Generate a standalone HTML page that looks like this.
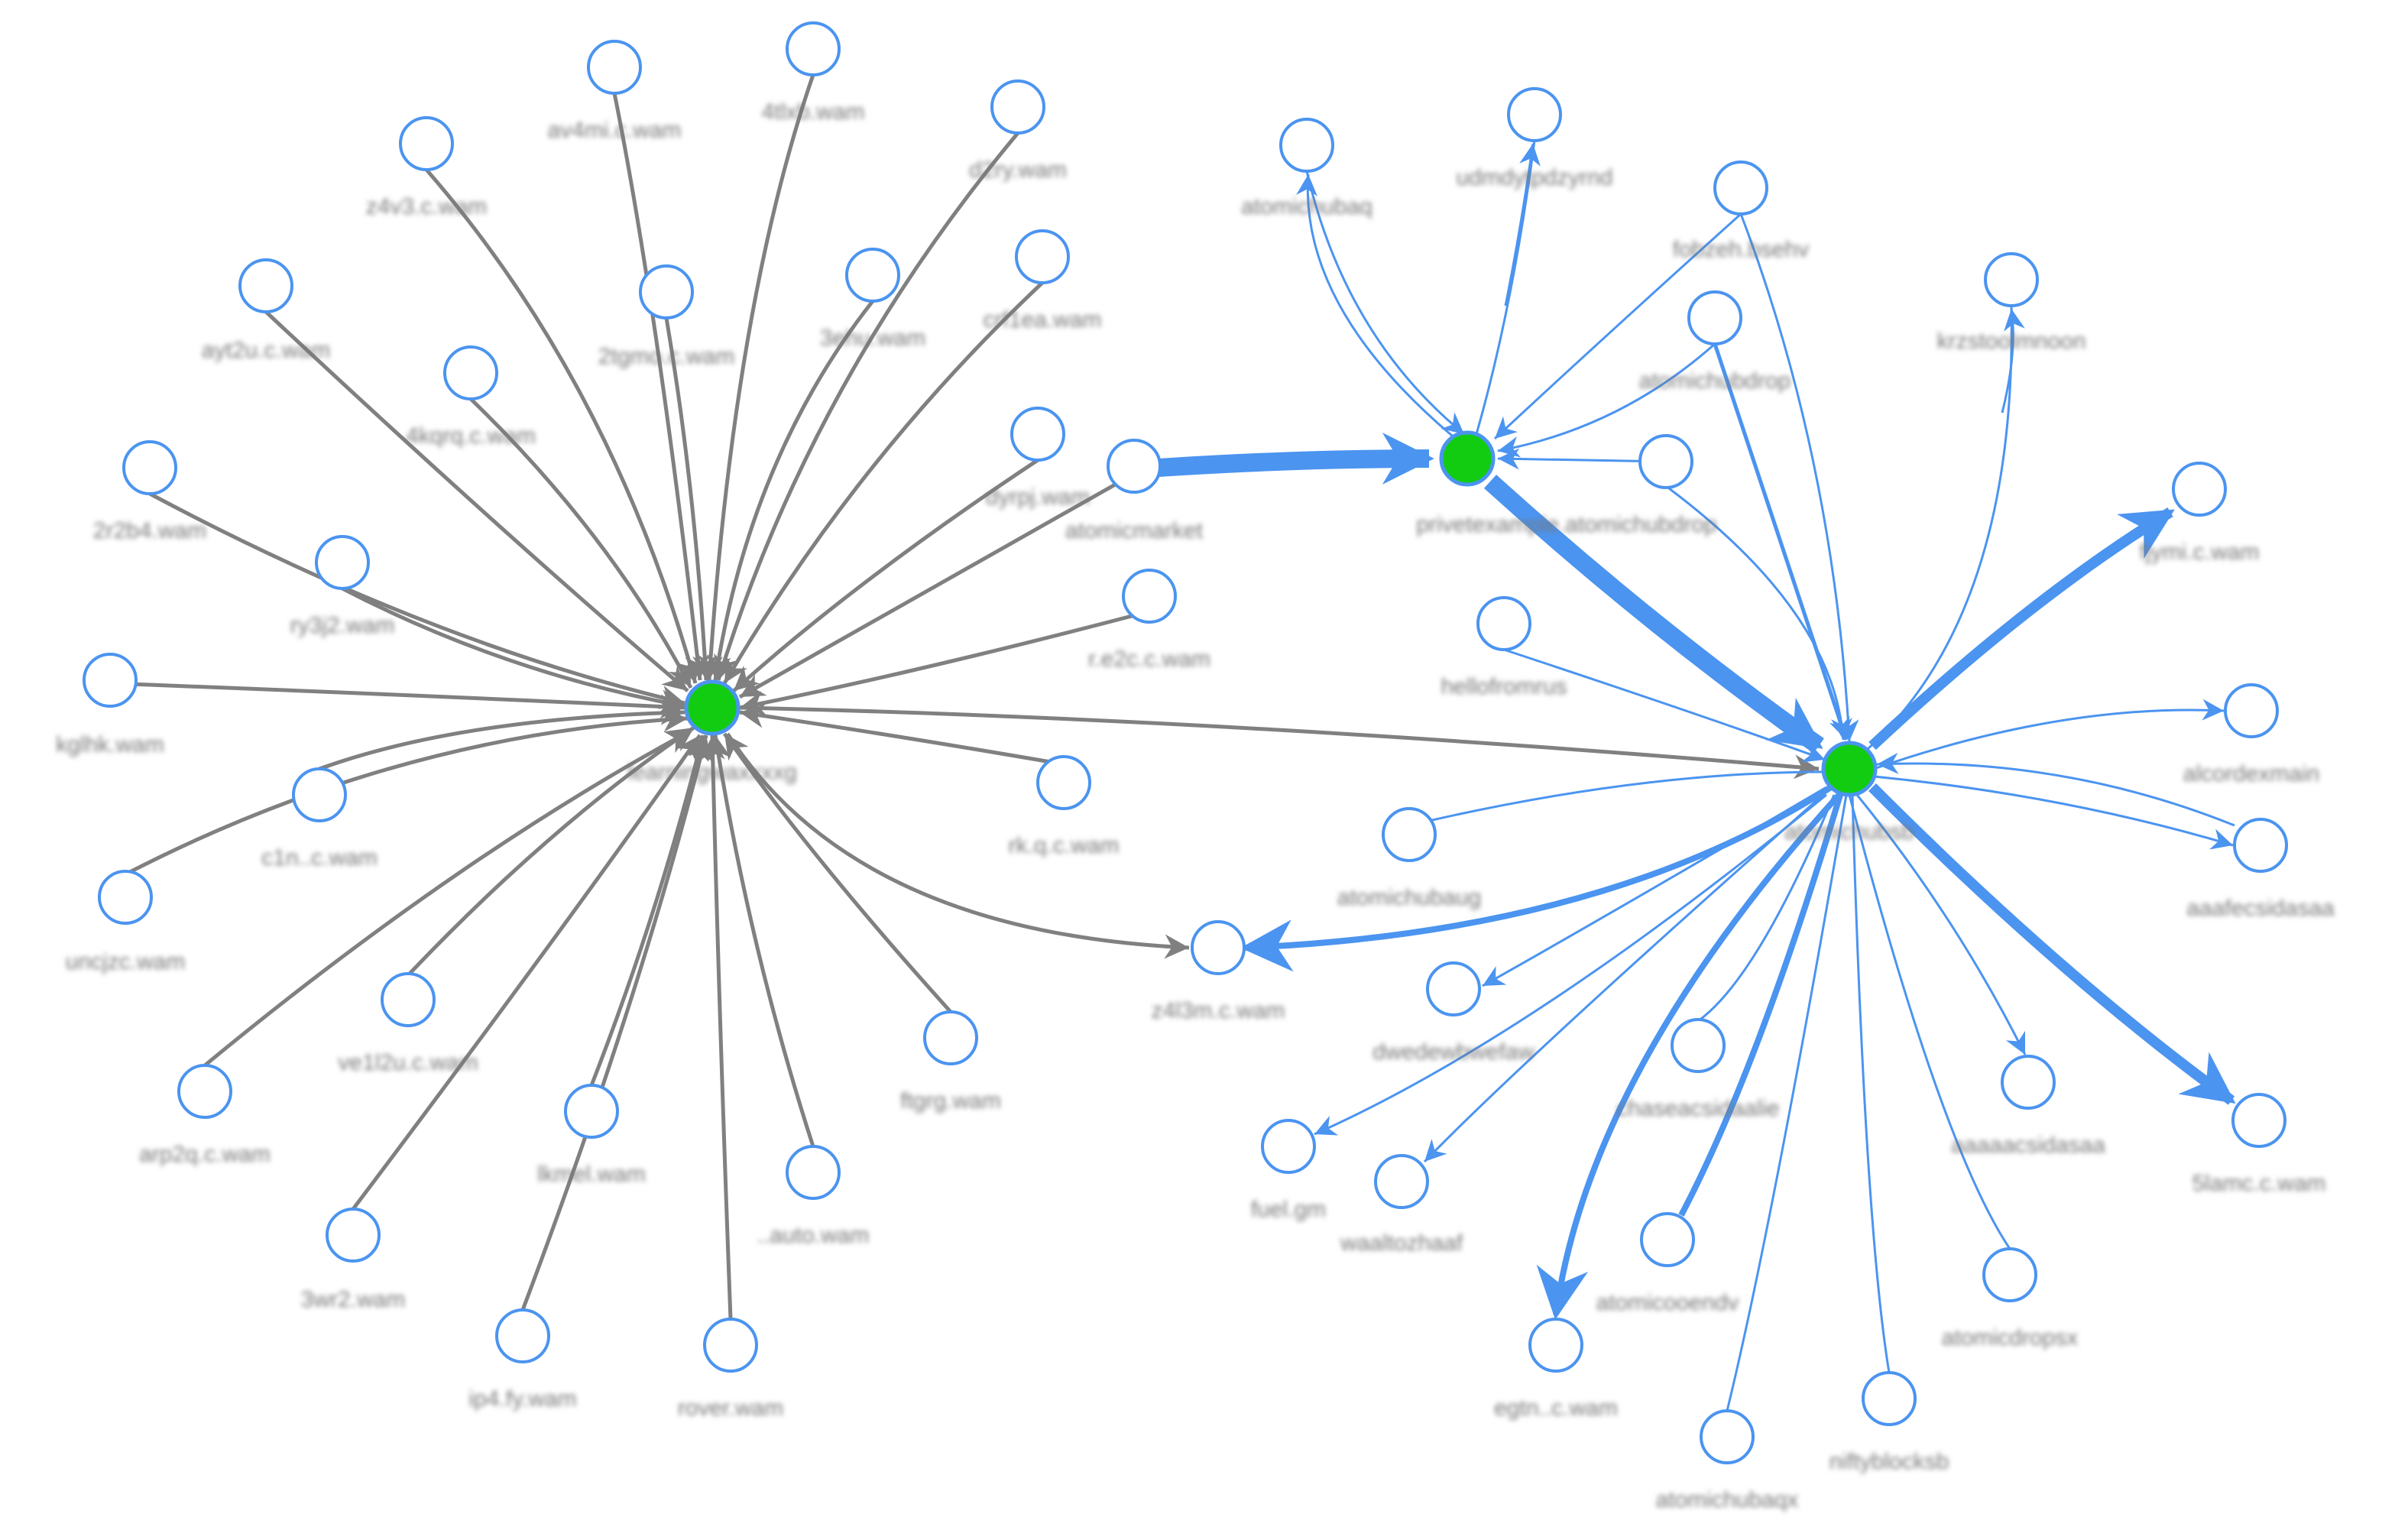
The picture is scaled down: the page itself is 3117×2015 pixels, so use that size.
<!DOCTYPE html>
<html><head><meta charset="utf-8"><style>
html,body{margin:0;padding:0;background:#fff;}
svg{display:block}
text{font-family:"Liberation Sans",sans-serif;font-size:15px;fill:#777;filter:url(#b)}
</style></head><body>
<svg width="3117" height="2015" viewBox="0 0 1558.5 1007.5" xmlns="http://www.w3.org/2000/svg">
<defs>
<filter id="b" x="-20%" y="-50%" width="140%" height="200%"><feGaussianBlur stdDeviation="1.6"/></filter>
<marker id="g" viewBox="0 0 10 10" refX="10" refY="5" markerWidth="5" markerHeight="5" orient="auto" markerUnits="userSpaceOnUse"><path d="M0,0L10,5L0,10z" fill="#808080"/></marker>
<marker id="ga" viewBox="0 0 10 10" refX="10" refY="5" markerWidth="22" markerHeight="16" orient="auto" markerUnits="userSpaceOnUse"><path d="M0,0L10,5L0,10L3,5z" fill="#808080"/></marker>
<marker id="bl" viewBox="0 0 10 10" refX="10" refY="5" markerWidth="20" markerHeight="14" orient="auto" markerUnits="userSpaceOnUse"><path d="M0,0L10,5L0,10L3,5z" fill="#4b94f0"/></marker>
<marker id="bb" viewBox="0 0 10 10" refX="9" refY="5" markerWidth="50" markerHeight="34" orient="auto" markerUnits="userSpaceOnUse"><path d="M0,0L10,5L0,10L3,5z" fill="#4b94f0"/></marker>
</defs>
<g fill="none" stroke="#808080" stroke-width="2.5" marker-end="url(#ga)">
<path d="M402,61 Q430,200 458,445"/>
<path d="M532,49 Q480,200 464,445"/>
<path d="M666,87 Q530,250 470,445"/>
<path d="M279,111 Q400,250 455,447"/>
<path d="M436,208 Q455,320 462,445"/>
<path d="M571,197 Q490,300 468,445"/>
<path d="M682,185 Q560,300 474,447"/>
<path d="M174,204 Q330,350 450,452"/>
<path d="M308,261 Q400,350 452,450"/>
<path d="M679,301 Q560,380 480,452"/>
<path d="M742,310 Q600,390 484,456"/>
<path d="M98,323 Q280,420 448,460"/>
<path d="M224,385 Q330,440 448,462"/>
<path d="M752,400 Q600,440 484,463"/>
<path d="M72,447 Q280,455 448,463"/>
<path d="M209,503 Q300,470 448,466"/>
<path d="M696,500 Q580,480 484,466"/>
<path d="M82,572 Q260,480 450,470"/>
<path d="M267,638 Q360,540 454,476"/>
<path d="M134,697 Q300,560 452,478"/>
<path d="M387,710 Q430,600 460,481"/>
<path d="M622,662 Q530,560 474,480"/>
<path d="M532,750 Q490,620 468,481"/>
<path d="M231,791 Q360,620 458,481"/>
<path d="M342,857 Q420,650 462,481"/>
<path d="M478,863 Q470,650 466,481"/>
<path d="M484,463 Q800,470 1190,503"/>
<path d="M476,480 Q560,610 778,620"/>
</g>
<g fill="none" stroke="#4b94f0" stroke-width="1.5" marker-end="url(#bl)">
<path d="M855,112 Q880,220 958,284" /><path d="M950,285 Q850,200 856,114"/>
<path d="M1004,92 Q990,200 966,284" marker-end="none"/><path d="M985,200 Q995,150 1003,94"/>
<path d="M1139,140 Q1050,220 978,287"/>
<path d="M1122,225 Q1060,280 980,295"/>
<path d="M1090,302 L980,300"/>
<path d="M1139,140 Q1200,300 1210,485"/>
<path d="M1122,225 L1208,484" stroke-width="2.5"/>
<path d="M1090,318 Q1200,400 1206,484"/>
<path d="M1316,200 Q1320,400 1222,490" marker-end="none"/><path d="M1310,270 Q1320,230 1316,202"/>
<path d="M984,425 Q1120,470 1194,497"/>
<path d="M1226,503 Q1350,460 1455,465"/>
<path d="M1226,508 Q1350,520 1461,553"/>
<path d="M1462,540 Q1350,495 1228,500"/>
<path d="M1215,520 Q1280,600 1325,690"/>
<path d="M1210,520 Q1270,750 1315,817" marker-end="none"/>
<path d="M1212,520 Q1220,800 1236,898" marker-end="none"/>
<path d="M1208,520 Q1160,800 1130,923" marker-end="none"/>
<path d="M1200,520 Q1150,640 1111,668" marker-end="none"/>
<path d="M1195,515 Q1050,600 970,645"/>
<path d="M1195,518 Q1000,690 932,760"/>
<path d="M1195,520 Q1000,680 860,742"/>
<path d="M922,540 Q1070,505 1194,505" marker-end="none"/>
</g>
<g fill="none" stroke="#4b94f0" marker-end="url(#bb)">
<path d="M758,306 Q850,300 935,300" stroke-width="12"/>
<path d="M975,315 Q1080,410 1190,488" stroke-width="12"/>
<path d="M1225,488 Q1330,390 1420,335" stroke-width="7"/>
<path d="M1225,515 Q1350,640 1460,720" stroke-width="7"/>
<path d="M1205,518 Q1040,700 1018,860" stroke-width="4"/>
<path d="M1204,520 Q1150,700 1100,795" stroke-width="4" marker-end="none"/>
<path d="M1198,515 Q1050,610 815,620" stroke-width="4"/>
</g>
<g fill="#fff" stroke="#4b94f0" stroke-width="2">
<circle cx="402" cy="44" r="17"/><circle cx="532" cy="32" r="17"/><circle cx="666" cy="70" r="17"/><circle cx="279" cy="94" r="17"/><circle cx="436" cy="191" r="17"/><circle cx="571" cy="180" r="17"/><circle cx="682" cy="168" r="17"/><circle cx="174" cy="187" r="17"/><circle cx="308" cy="244" r="17"/><circle cx="679" cy="284" r="17"/><circle cx="742" cy="305" r="17"/><circle cx="98" cy="306" r="17"/><circle cx="224" cy="368" r="17"/><circle cx="752" cy="390" r="17"/><circle cx="72" cy="445" r="17"/><circle cx="209" cy="520" r="17"/><circle cx="696" cy="512" r="17"/><circle cx="82" cy="587" r="17"/><circle cx="267" cy="654" r="17"/><circle cx="134" cy="714" r="17"/><circle cx="387" cy="727" r="17"/><circle cx="622" cy="679" r="17"/><circle cx="532" cy="767" r="17"/><circle cx="231" cy="808" r="17"/><circle cx="342" cy="874" r="17"/><circle cx="478" cy="880" r="17"/>
<circle cx="797" cy="620" r="17"/><circle cx="855" cy="95" r="17"/><circle cx="1004" cy="75" r="17"/><circle cx="1139" cy="123" r="17"/><circle cx="1122" cy="208" r="17"/><circle cx="1090" cy="302" r="17"/><circle cx="1316" cy="183" r="17"/><circle cx="1439" cy="320" r="17"/><circle cx="1473" cy="465" r="17"/><circle cx="1479" cy="553" r="17"/><circle cx="1478" cy="733" r="17"/><circle cx="1327" cy="708" r="17"/><circle cx="1315" cy="834" r="17"/><circle cx="1236" cy="915" r="17"/><circle cx="1130" cy="940" r="17"/><circle cx="1018" cy="880" r="17"/><circle cx="1091" cy="811" r="17"/><circle cx="1111" cy="684" r="17"/><circle cx="951" cy="647" r="17"/><circle cx="917" cy="773" r="17"/><circle cx="843" cy="750" r="17"/><circle cx="922" cy="546" r="17"/><circle cx="984" cy="408" r="17"/>
</g>
<g fill="#11cc11" stroke="#4b94f0" stroke-width="2.5">
<circle cx="466" cy="463" r="17"/><circle cx="960" cy="300" r="17"/><circle cx="1210" cy="503" r="17"/>
</g>
<g text-anchor="middle">
<text x="402" y="90">av4mi.c.wam</text><text x="532" y="78">4tlxb.wam</text><text x="666" y="116">d2ry.wam</text><text x="279" y="140">z4v3.c.wam</text><text x="436" y="238">2tgmo.c.wam</text><text x="571" y="226">3ehu.wam</text><text x="682" y="214">crf1ea.wam</text><text x="174" y="234">ayt2u.c.wam</text><text x="308" y="290">4kqrq.c.wam</text><text x="679" y="330">dyrpj.wam</text><text x="742" y="352">atomicmarket</text><text x="98" y="352">2r2b4.wam</text><text x="224" y="414">ry3j2.wam</text><text x="752" y="436">r.e2c.c.wam</text><text x="72" y="492">kglhk.wam</text><text x="466" y="510">learningwaxxxxg</text><text x="209" y="566">c1n..c.wam</text><text x="696" y="558">rk.q.c.wam</text><text x="82" y="634">uncjzc.wam</text><text x="267" y="700">ve1l2u.c.wam</text><text x="134" y="760">arp2q.c.wam</text><text x="387" y="773">lkmel.wam</text><text x="622" y="725">ftgrg.wam</text><text x="532" y="813">..auto.wam</text><text x="231" y="855">3wr2.wam</text><text x="342" y="920">ip4.fy.wam</text><text x="478" y="926">rover.wam</text>
<text x="797" y="666">z4l3m.c.wam</text><text x="855" y="140">atomichubaq</text><text x="1004" y="121">udmdytpdzyrnd</text><text x="1139" y="168">fobzeh.bsehv</text><text x="1122" y="254">atomichubdrop</text><text x="1025" y="348">privetexample.atomichubdrop</text><text x="1316" y="228">krzstoolmnoon</text><text x="1439" y="366">fjymi.c.wam</text><text x="1473" y="511">alcordexmain</text><text x="1479" y="599">aaafecsidasaa</text><text x="1478" y="779">5lamc.c.wam</text><text x="1327" y="754">aaaaacsidasaa</text><text x="1315" y="880">atomicdropsx</text><text x="1236" y="961">niftyblocksb</text><text x="1130" y="986">atomichubaqx</text><text x="1018" y="926">egtn..c.wam</text><text x="1091" y="857">atomicooendv</text><text x="1111" y="730">chaseacsidaalie</text><text x="951" y="693">dwedewbwefaw</text><text x="917" y="818">waaltozhaaf</text><text x="843" y="796">fuel.gm</text><text x="922" y="592">atomichubaug</text><text x="984" y="454">hellofromrus</text><text x="1210" y="549">atomichubsb</text>
</g>
</svg>
</body></html>
